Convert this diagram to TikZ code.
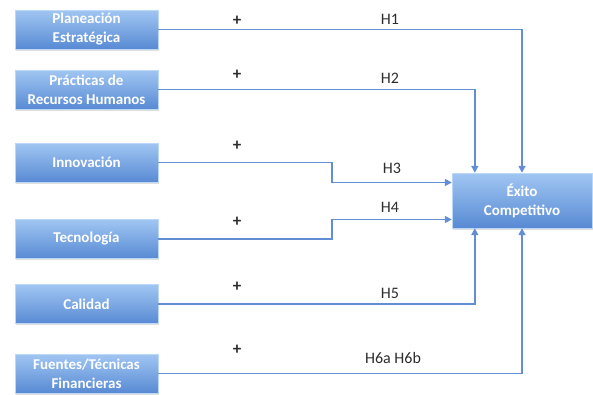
\documentclass[tikz,border=0pt]{standalone}
\usepackage{fontspec}
\setmainfont{Carlito}
\usetikzlibrary{arrows.meta,shadows}
\definecolor{linec}{RGB}{98,142,214}
\definecolor{boxtop}{RGB}{160,198,242}
\definecolor{boxbot}{RGB}{88,138,212}
\definecolor{labc}{RGB}{45,45,45}
\tikzset{
  box/.style={rectangle, minimum width=143pt, minimum height=39pt, inner sep=1pt,
    top color=boxtop, bottom color=boxbot, draw=boxtop!70!white, line width=0.4pt,
    drop shadow={shadow xshift=1pt, shadow yshift=-1.5pt, opacity=0.25},
    text=white, font=\fontsize{15}{19}\selectfont\bfseries, align=center},
  arr/.style={draw=linec, line width=1.6pt, -{Triangle[length=7pt,width=7pt]}},
  lab/.style={text=labc, font=\fontsize{16}{16}\selectfont, inner sep=0pt},
  plus/.style={text=labc, font=\fontsize{17}{17}\selectfont\bfseries, inner sep=0pt}
}
\begin{document}
\begin{tikzpicture}[x=1pt,y=-1pt]
\useasboundingbox[fill=white] (0,0) rectangle (593,394);
\node[box] (p1) at (86.5,29.5) {Planeación\\Estratégica};
\node[box] (p2) at (86.5,89.5) {Prácticas de\\Recursos Humanos};
\node[box] (p3) at (86.5,162.5) {Innovación};
\node[box] (p4) at (86.5,239) {Tecnología};
\node[box] (p5) at (86.5,304) {Calidad};
\node[box] (p6) at (86.5,373.5) {Fuentes/Técnicas\\Financieras};
\node[box, minimum width=140pt, minimum height=55pt] (ex) at (522,200.5) {Éxito\\Competitivo};

\draw[arr] (p1.east) -| (ex.north);
\draw[arr] (p2.east) -| ([xshift=23pt]ex.north west);
\draw[arr] (p3.east) -- ++(174,0) |- ([yshift=18pt]ex.west);
\draw[arr] (p4.east) -- ++(174,0) |- ([yshift=-19pt]ex.west);
\draw[arr] (p5.east) -| ([xshift=23pt]ex.south west);
\draw[arr] (p6.east) -| (ex.south);

\node[plus] (s1) at (237,21) {+};
\node[plus] (s2) at (237,75) {+};
\node[plus] (s3) at (237,146) {+};
\node[plus] (s4) at (237,222) {+};
\node[plus] (s5) at (237,287) {+};
\node[plus] (s6) at (237,350) {+};

\node[lab] (h1) at (390,19) {H1};
\node[lab] (h2) at (390,78) {H2};
\node[lab] (h3) at (392,168) {H3};
\node[lab] (h4) at (390,207) {H4};
\node[lab] (h5) at (390,293) {H5};
\node[lab] (h6) at (393,358) {H6a H6b};
\end{tikzpicture}
\end{document}
